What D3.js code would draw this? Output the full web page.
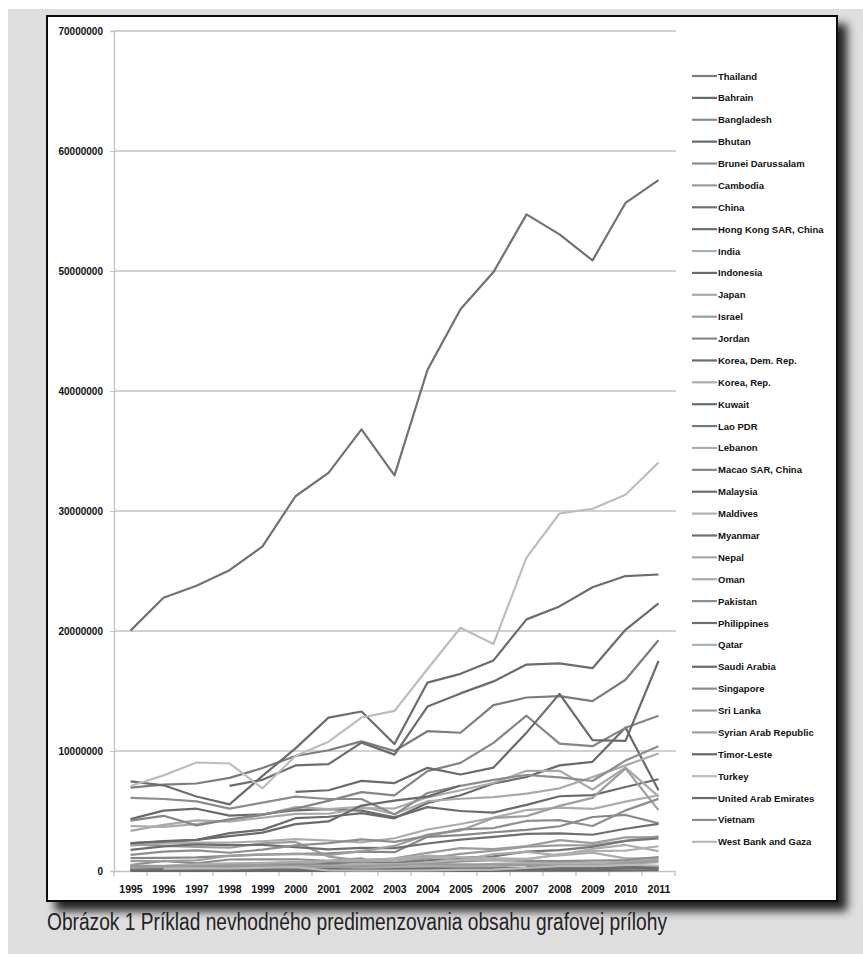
<!DOCTYPE html>
<html>
<head>
<meta charset="utf-8">
<script src="https://cdn.jsdelivr.net/npm/d3@7"></script>
<style>
  body { margin: 0; background: #fff; }
  svg { display: block; }
</style>
</head>
<body>
<script>
// # data
var years = ["1995","1996","1997","1998","1999","2000","2001","2002","2003","2004","2005","2006","2007","2008","2009","2010","2011"];
var yTicks = [0, 10000000, 20000000, 30000000, 40000000, 50000000, 60000000, 70000000];

var countries = ["Thailand","Bahrain","Bangladesh","Bhutan","Brunei Darussalam","Cambodia","China","Hong Kong SAR, China","India","Indonesia","Japan","Israel","Jordan","Korea, Dem. Rep.","Korea, Rep.","Kuwait","Lao PDR","Lebanon","Macao SAR, China","Malaysia","Maldives","Myanmar","Nepal","Oman","Pakistan","Philippines","Qatar","Saudi Arabia","Singapore","Sri Lanka","Syrian Arab Republic","Timor-Leste","Turkey","United Arab Emirates","Vietnam","West Bank and Gaza"];

// values in millions
var thailand   = [6.95,7.19,7.29,7.76,8.58,9.58,10.06,10.8,10.0,11.65,11.52,13.82,14.46,14.58,14.15,15.94,19.23];
var bahrain    = [2.31,2.49,2.6,3.16,3.43,4.4,4.52,4.83,4.39,5.67,6.31,7.29,7.83,8.8,9.1,11.95,6.73];
var bangladesh = [0.16,0.17,0.18,0.17,0.17,0.2,0.21,0.21,0.25,0.27,0.21,0.2,0.29,0.47,0.27,0.3,0.16];
var bhutan     = [0.005,0.005,0.005,0.006,0.007,0.008,0.006,0.006,0.006,0.009,0.014,0.017,0.021,0.028,0.023,0.041,0.066];
var brunei     = [0.5,0.84,0.64,0.96,0.97,0.98,0.84,1.05,0.19,0.12,0.13,0.16,0.18,0.23,0.16,0.21,0.24];
var cambodia   = [0.22,0.26,0.22,0.29,0.37,0.47,0.6,0.79,0.7,1.06,1.42,1.7,2.02,2.13,2.16,2.51,2.88];
var china      = [20.03,22.77,23.77,25.07,27.05,31.23,33.17,36.8,32.97,41.76,46.81,49.91,54.72,53.05,50.88,55.67,57.58];
var hongKong   = [null,null,null,7.1,7.6,8.8,8.9,10.7,9.7,13.7,14.8,15.8,17.2,17.3,16.9,20.1,22.3];
var india      = [2.12,2.29,2.37,2.36,2.48,2.65,2.54,2.38,2.73,3.46,3.92,4.45,5.08,5.28,5.17,5.78,6.31];
var indonesia  = [4.32,5.03,5.19,4.61,4.73,5.06,5.15,5.03,4.47,5.32,5.0,4.87,5.51,6.23,6.32,7.0,7.65];
var japan      = [3.35,3.84,4.22,4.11,4.44,4.76,4.77,5.24,5.21,6.14,6.73,7.33,8.35,8.35,6.79,8.61,6.22];
var israel     = [2.22,2.1,2.01,1.94,2.31,2.42,1.2,0.86,1.06,1.51,1.9,1.83,2.07,2.57,2.32,2.8,2.82];
var jordan     = [1.07,1.1,1.13,1.26,1.36,1.43,1.48,1.62,1.57,2.85,2.99,3.23,3.43,3.73,4.5,4.67,3.98];
var koreaDem   = [null,null,null,null,null,null,null,null,null,null,null,null,null,null,null,null,null];
var koreaRep   = [3.75,3.68,3.91,4.25,4.66,5.32,5.15,5.35,4.75,5.82,6.02,6.16,6.45,6.89,7.82,8.8,9.79];
var kuwait     = [0.07,0.08,0.08,0.08,0.09,0.08,0.08,0.09,0.09,0.09,0.1,0.11,0.13,0.13,0.15,0.21,0.27];
var lao        = [0.35,0.4,0.46,0.5,0.61,0.74,0.67,0.74,0.64,0.89,1.1,1.22,1.62,1.74,2.01,2.51,2.72];
var lebanon    = [0.45,0.42,0.56,0.63,0.67,0.74,0.84,0.96,1.02,1.28,1.14,1.06,1.02,1.33,1.84,2.17,1.66];
var macao      = [4.2,4.6,3.8,4.3,4.7,5.2,5.84,6.57,6.31,8.32,9.01,10.68,12.94,10.61,10.4,11.93,12.93];
var malaysia   = [7.47,7.14,6.21,5.55,7.93,10.22,12.78,13.29,10.58,15.7,16.43,17.55,20.97,22.05,23.65,24.58,24.71];
var maldives   = [0.32,0.34,0.37,0.4,0.43,0.47,0.46,0.48,0.56,0.62,0.4,0.6,0.68,0.68,0.66,0.79,0.93];
var myanmar    = [0.12,0.17,0.19,0.2,0.2,0.21,0.2,0.22,0.21,0.24,0.23,0.26,0.25,0.19,0.24,0.31,0.39];
var nepal      = [0.36,0.39,0.42,0.46,0.49,0.46,0.36,0.28,0.34,0.39,0.38,0.38,0.53,0.5,0.51,0.6,0.74];
var oman       = [0.28,0.35,0.38,0.42,0.5,0.57,0.82,0.82,0.87,1.2,0.89,1.4,1.6,1.3,1.52,1.05,1.05];
var pakistan   = [0.38,0.37,0.37,0.43,0.43,0.56,0.5,0.5,0.5,0.65,0.8,0.9,0.84,0.82,0.86,0.91,1.16];
var philippines= [1.76,2.05,2.22,2.15,2.17,1.99,1.8,1.93,1.91,2.29,2.62,2.84,3.09,3.14,3.02,3.52,3.92];
var qatar      = [null,null,null,null,null,0.38,0.38,0.59,0.56,0.73,0.91,0.95,0.96,1.41,1.66,1.7,2.06];
var saudi      = [null,null,null,null,null,6.59,6.73,7.51,7.33,8.6,8.04,8.62,11.53,14.76,10.9,10.85,17.5];
var singapore  = [6.1,6.0,5.8,5.2,5.7,6.2,6.0,6.0,4.7,6.5,7.1,7.6,8.0,7.8,7.5,9.2,10.4];
var sriLanka   = [0.4,0.3,0.37,0.38,0.44,0.4,0.34,0.39,0.5,0.57,0.55,0.56,0.49,0.44,0.45,0.65,0.86];
var syria      = [0.82,0.83,0.89,1.27,1.39,1.42,1.32,1.66,2.09,3.03,3.37,4.42,4.57,5.43,6.09,8.55,5.07];
var timor      = [null,null,null,null,null,null,null,null,null,null,null,null,0.3,0.36,0.35,null,null];
var turkey     = [7.08,7.97,9.04,8.96,6.89,9.59,10.78,12.79,13.34,16.83,20.27,18.92,26.12,29.79,30.19,31.36,34.04];
var uae        = [2.32,2.45,2.6,2.9,3.2,3.91,4.13,5.45,5.87,6.2,7.13,null,null,null,null,null,null];
var vietnam    = [1.35,1.61,1.72,1.52,1.78,2.14,2.33,2.63,2.43,2.93,3.47,3.58,4.17,4.24,3.75,5.05,6.01];
var westBank   = [null,0.2,0.22,0.21,0.27,0.33,0.04,0.03,0.04,0.06,0.09,0.12,0.26,0.4,0.4,0.52,0.45];

var values = [thailand,bahrain,bangladesh,bhutan,brunei,cambodia,china,hongKong,india,indonesia,japan,israel,jordan,koreaDem,koreaRep,kuwait,lao,lebanon,macao,malaysia,maldives,myanmar,nepal,oman,pakistan,philippines,qatar,saudi,singapore,sriLanka,syria,timor,turkey,uae,vietnam,westBank];

// gray of each series (printed excel palette)
var grays = ["#7c7c7c","#6a6a6a","#8a8a8a","#686868","#8c8c8c","#9a9a9a","#727272","#6c6c6c","#ababab","#6a6a6a","#a9a9a9","#9c9c9c","#878787","#6a6a6a","#ababab","#6a6a6a","#777777","#adadad","#858585","#6c6c6c","#b0b0b0","#6e6e6e","#a8a8a8","#aaaaaa","#8e8e8e","#6e6e6e","#b0b0b0","#6a6a6a","#8c8c8c","#9a9a9a","#9e9e9e","#666666","#bdbdbd","#6a6a6a","#8e8e8e","#b8b8b8"];

var W = 863, H = 954;
var svg = d3.select("body").append("svg").attr("width", W).attr("height", H);

// shadow for the chart box
var defs = svg.append("defs");
var f = defs.append("filter").attr("id", "shadow")
  .attr("x", "-5%").attr("y", "-5%").attr("width", "115%").attr("height", "115%");
f.append("feDropShadow").attr("dx", 9).attr("dy", 9).attr("stdDeviation", 5)
  .attr("flood-color", "#000").attr("flood-opacity", 0.85);

// gray page
svg.append("rect").attr("x", 8).attr("y", 9).attr("width", W - 8).attr("height", H - 9).attr("fill", "#dedede");

// white chart box
svg.append("rect").attr("x", 47).attr("y", 16).attr("width", 790).attr("height", 885)
  .attr("fill", "#fff").attr("stroke", "#111").attr("stroke-width", 2)
  .attr("filter", "url(#shadow)");

// # scales
var plotL = 114, plotR = 675, plotT = 31, plotB = 871;
var xBand = d3.scaleBand().domain(years).range([plotL, plotR]);
var x = d3.scalePoint().domain(years).range([plotL, plotR]).padding(0.5);
var y = d3.scaleLinear().domain([0, 70000000]).range([plotB, plotT]);

// gridlines
svg.append("g").selectAll("line").data(yTicks.slice(1)).enter().append("line")
  .attr("x1", plotL).attr("x2", plotR + 1)
  .attr("y1", function (d) { return y(d); }).attr("y2", function (d) { return y(d); })
  .attr("stroke", "#c2c2c2").attr("stroke-width", 1.3);

// y axis
var yAxis = svg.append("g").attr("transform", "translate(" + plotL + ",0)")
  .call(d3.axisLeft(y).tickValues(yTicks).tickSize(4).tickPadding(7).tickFormat(d3.format("d")));
yAxis.select(".domain").attr("stroke", "#c2c2c2").attr("stroke-width", 1.3);
yAxis.selectAll(".tick line").attr("stroke", "#c2c2c2");
yAxis.selectAll("text").attr("font-family", "Liberation Sans, Arial, sans-serif")
  .attr("font-weight", "bold").attr("font-size", "10px").attr("fill", "#111");

// x axis: labels under each year, ticks between years
var xAxis = svg.append("g").attr("transform", "translate(0," + plotB + ")")
  .call(d3.axisBottom(x).tickSize(0).tickPadding(15));
xAxis.select(".domain").attr("stroke", "#c2c2c2").attr("stroke-width", 1.3);
xAxis.selectAll("text").attr("font-family", "Liberation Sans, Arial, sans-serif")
  .attr("font-weight", "bold").attr("font-size", "10.5px").attr("fill", "#111");
xAxis.selectAll("line.sep").data(years.concat(["end"])).enter().append("line")
  .attr("class", "sep")
  .attr("x1", function (d) { return d == "end" ? plotR : xBand(d); })
  .attr("x2", function (d) { return d == "end" ? plotR : xBand(d); })
  .attr("y1", 0).attr("y2", 5)
  .attr("stroke", "#c2c2c2").attr("stroke-width", 1.3);

// # lines
var line = d3.line()
  .defined(function (d) { return d != null; })
  .x(function (d, i) { return x(years[i]); })
  .y(function (d) { return y(d * 1000000); });

svg.append("g").selectAll("path").data(values).enter().append("path")
  .attr("d", function (d) { return line(d); })
  .attr("fill", "none")
  .attr("stroke", function (d, i) { return grays[i]; })
  .attr("stroke-width", 2.2)
  .attr("stroke-linejoin", "round");

// # legend
var legend = svg.append("g").selectAll("g").data(countries).enter().append("g")
  .attr("transform", function (d, i) { return "translate(692," + (76 + i * 21.88) + ")"; });
legend.append("line").attr("x1", 0).attr("x2", 25).attr("y1", 0).attr("y2", 0)
  .attr("stroke", function (d, i) { return grays[i]; }).attr("stroke-width", 2.2);
legend.append("text").attr("x", 26).attr("y", 3.5)
  .attr("font-family", "Liberation Sans, Arial, sans-serif").attr("font-weight", "bold")
  .attr("font-size", "9.5px").attr("fill", "#111")
  .text(function (d) { return d; });

// caption
svg.append("text").attr("x", 47).attr("y", 930)
  .attr("font-family", "Liberation Sans Narrow, Arial Narrow, sans-serif")
  .attr("font-size", "23px").attr("fill", "#222")
  .attr("textLength", 620).attr("lengthAdjust", "spacingAndGlyphs")
  .text("Obrázok 1 Príklad nevhodného predimenzovania obsahu grafovej prílohy");
</script>
</body>
</html>
